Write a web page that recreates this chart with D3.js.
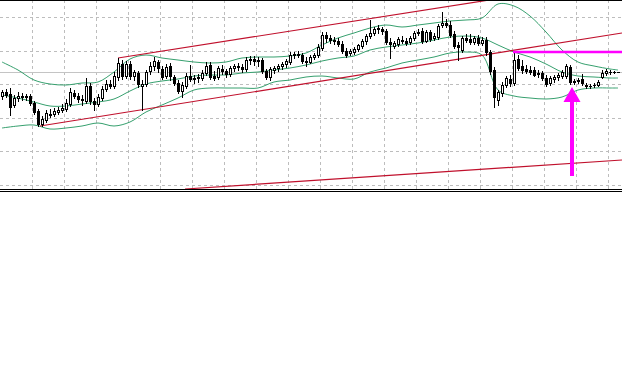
<!DOCTYPE html>
<html><head><meta charset="utf-8">
<script src="https://cdn.jsdelivr.net/npm/d3@7"></script>
<style>html,body{margin:0;padding:0;background:#fff;}svg{display:block;}</style>
</head><body>
<svg id="chart" width="622" height="384"></svg>
<script>
// ---- data (bar index 0..154, prices in chart points) ----
const openP = [104,108,106,95,102,104,103,104,97,89,76,80,86,86,88,90,91,96,107,104,101,99,114,99,96,102,111,116,114,123,136,124,136,124,127,114,116,129,134,138,131,124,134,123,117,109,114,124,121,122,122,127,135,124,123,131,129,126,132,134,133,131,140,141,139,140,129,123,130,132,134,136,138,145,146,145,139,138,143,145,152,165,162,160,159,156,149,147,148,151,154,159,164,167,171,171,169,158,154,156,160,159,158,162,167,169,159,168,162,163,175,177,175,166,155,150,162,161,158,162,157,160,148,130,100,107,115,121,117,141,134,131,130,130,126,127,122,117,121,123,124,124,133,119,119,121,115,114,115,115,123,127,128,128,128];
const highP = [110,111,112,105,108,107,106,106,99,91,84,90,91,92,93,96,101,112,110,107,105,122,117,102,106,114,120,120,128,142,140,139,139,130,129,120,130,138,143,140,134,136,137,125,120,118,127,135,125,126,130,138,138,129,134,135,131,134,136,137,136,143,144,144,143,142,131,133,134,136,138,141,148,148,149,147,143,145,147,156,168,168,165,163,162,159,152,151,153,156,161,166,180,173,175,173,171,162,159,163,164,162,164,169,171,172,170,170,167,176,188,181,179,169,158,164,166,166,164,165,163,163,150,133,110,118,124,125,147,145,140,135,134,133,130,129,125,124,125,127,130,136,135,121,122,126,117,116,117,120,130,131,130,129,128];
const lowP = [101,103,85,93,99,100,100,95,86,74,74,78,83,84,86,88,89,94,102,98,95,97,96,90,94,100,109,112,112,120,121,122,121,120,113,90,114,126,130,128,121,122,120,115,107,103,112,119,117,118,120,125,121,120,121,126,123,124,129,130,128,129,136,135,134,127,121,120,127,129,131,133,136,142,143,137,134,137,141,143,150,158,157,156,154,147,143,145,146,149,152,156,162,165,167,166,156,142,152,154,157,155,156,160,165,157,158,159,160,161,173,173,163,152,140,148,158,156,156,155,155,145,126,93,95,104,113,114,115,130,127,127,126,124,123,120,114,115,118,120,122,122,116,116,117,115,112,112,113,114,122,125,126,127,128];
const closeP = [108,105,93,102,104,103,104,97,88,76,81,87,85,89,90,92,97,108,104,101,100,114,99,96,103,111,116,114,124,137,124,136,124,128,116,116,128,134,139,132,123,133,124,117,109,115,124,121,122,123,127,134,123,122,132,129,126,132,134,133,131,140,141,139,140,129,123,131,132,134,136,139,145,146,145,139,138,143,145,153,165,162,160,159,156,149,145,149,151,155,159,164,167,171,172,169,158,156,157,161,159,157,162,167,168,159,168,161,164,174,177,175,165,154,153,162,160,158,162,157,160,148,129,103,108,115,122,117,140,132,130,129,128,125,127,122,116,122,123,125,128,134,118,118,120,117,114,114,115,118,127,129,128,128,128];

// Bollinger bands at these bar indices
const bandIdx   = [0,4,8,12,16,20,24,28,32,36,40,44,48,52,56,60,64,68,72,76,80,84,88,92,96,100,104,108,112,116,120,124,128,132,136,140,144,148,152,154];
const bandUpper = [138,130,120,116,115,117,118,128,141,145,142,140,138,137,138,142,143,143,144,147,155,162,167,172,175,173,175,177,179,180,182,196,194,184,168,150,138,134,131,130];
const bandMid   = [105,102,98,94,94,96,98,101,109,116,119,121,124,125,125,127,128,130,132,135,139,142,144,150,153,155,157,160,163,164,162,155,148,143,136,128,124,123,122,122];
const bandLower = [72,74,75,71,72,74,77,74,78,88,95,102,110,112,112,112,112,118,120,123,124,122,121,128,132,137,140,143,147,148,145,110,104,102,101,103,110,112,112,112];

// trend lines: [barIndex, price]
const trendTop    = [[29,142],[125,202]];
const trendBottom = [[9.5,74],[155,167]];
const trendLow    = [[45.75,11],[155,40]];
const magentaLevel = [[127.75,148],[156,148]];
const arrowBar = 142.5, arrowTip = 113, arrowTail = 24;
const bidPrice = 128;

const gridPrices = [15.5,49,82.5,116,149.5,183];
const gridBars = [7.5,15.5,23.5,31.5,39.5,47.5,55.5,63.5,71.5,79.5,87.5,95.5,103.5,111.5,119.5,127.5,135.5,143.5,151.5];

// ---- drawing ----
const W = 622, plotBottom = 189;
const svg = d3.select("#chart");
svg.append("rect").attr("width",622).attr("height",384).attr("fill","#fff");

const x = d3.scaleLinear().domain([0,154]).range([2,618]);
const y = d3.scaleLinear().domain([10,200]).range([190,0]);

svg.append("defs").append("clipPath").attr("id","plot")
  .append("rect").attr("x",0).attr("y",0).attr("width",W).attr("height",plotBottom);
const g = svg.append("g").attr("clip-path","url(#plot)");

// grid
g.selectAll("line.hg").data(gridPrices).join("line")
  .attr("x1",0).attr("x2",W)
  .attr("y1",d=>Math.round(y(d))+0.5).attr("y2",d=>Math.round(y(d))+0.5)
  .attr("stroke","#bdbdbd").attr("stroke-dasharray","3,3").attr("stroke-width",1);
g.selectAll("line.vg").data(gridBars).join("line")
  .attr("y1",0).attr("y2",plotBottom)
  .attr("x1",d=>Math.round(x(d))+0.5).attr("x2",d=>Math.round(x(d))+0.5)
  .attr("stroke","#bdbdbd").attr("stroke-dasharray","3,3").attr("stroke-width",1);

// bid line
g.append("line").attr("x1",0).attr("x2",W)
  .attr("y1",Math.round(y(bidPrice))+0.5).attr("y2",Math.round(y(bidPrice))+0.5)
  .attr("stroke","#c4c4c4").attr("stroke-width",1);

// bands
const bandLine = d3.line().x(d=>x(d[0])).y(d=>y(d[1])).curve(d3.curveCatmullRom);
[bandUpper,bandMid,bandLower].forEach(arr=>{
  g.append("path").datum(bandIdx.map((b,i)=>[b,arr[i]]))
    .attr("d",bandLine).attr("fill","none").attr("stroke","#36a06e").attr("stroke-width",1);
});

// trend lines
const straight = d3.line().x(d=>x(d[0])).y(d=>y(d[1]));
[trendTop,trendBottom,trendLow].forEach(t=>{
  g.append("path").datum(t).attr("d",straight).attr("fill","none")
    .attr("stroke","#c0102c").attr("stroke-width",1.2);
});

// candles
const bars = d3.range(openP.length).map(i=>({i,o:openP[i],h:highP[i],l:lowP[i],c:closeP[i]}));
const cg = g.append("g");
bars.forEach(d=>{
  const px = Math.round(x(d.i));
  cg.append("line").attr("x1",px+0.5).attr("x2",px+0.5)
    .attr("y1",Math.round(y(d.h))).attr("y2",Math.round(y(d.l))+1)
    .attr("stroke","#000").attr("stroke-width",1);
  const top = Math.round(y(Math.max(d.o,d.c))), bot = Math.round(y(Math.min(d.o,d.c)));
  if (bot - top < 1) {
    cg.append("line").attr("x1",px-1).attr("x2",px+2)
      .attr("y1",top+0.5).attr("y2",top+0.5).attr("stroke","#000");
  } else {
    cg.append("rect").attr("x",px-0.5).attr("y",top+0.5)
      .attr("width",2).attr("height",bot-top)
      .attr("fill", d.c>=d.o ? "#fff" : "#000").attr("stroke","#000").attr("stroke-width",1);
  }
});

// magenta level & arrow
g.append("path").datum(magentaLevel).attr("d",straight)
  .attr("stroke","#ff00ff").attr("stroke-width",2.5).attr("fill","none");
const ax = x(arrowBar);
g.append("rect").attr("x",ax-2).attr("y",y(arrowTip)+12).attr("width",4)
  .attr("height",y(arrowTail)-y(arrowTip)-12).attr("fill","#ff00ff");
g.append("path")
  .attr("d",`M${ax},${y(arrowTip)} L${ax-8.5},${y(arrowTip)+15} L${ax+8.5},${y(arrowTip)+15} Z`)
  .attr("fill","#ff00ff");

// frame lines
svg.append("line").attr("x1",0).attr("x2",W).attr("y1",0.5).attr("y2",0.5).attr("stroke","#000");
svg.append("line").attr("x1",0).attr("x2",W).attr("y1",189.5).attr("y2",189.5).attr("stroke","#000");
svg.append("line").attr("x1",0).attr("x2",W).attr("y1",191.5).attr("y2",191.5).attr("stroke","#000");
</script>
</body></html>
